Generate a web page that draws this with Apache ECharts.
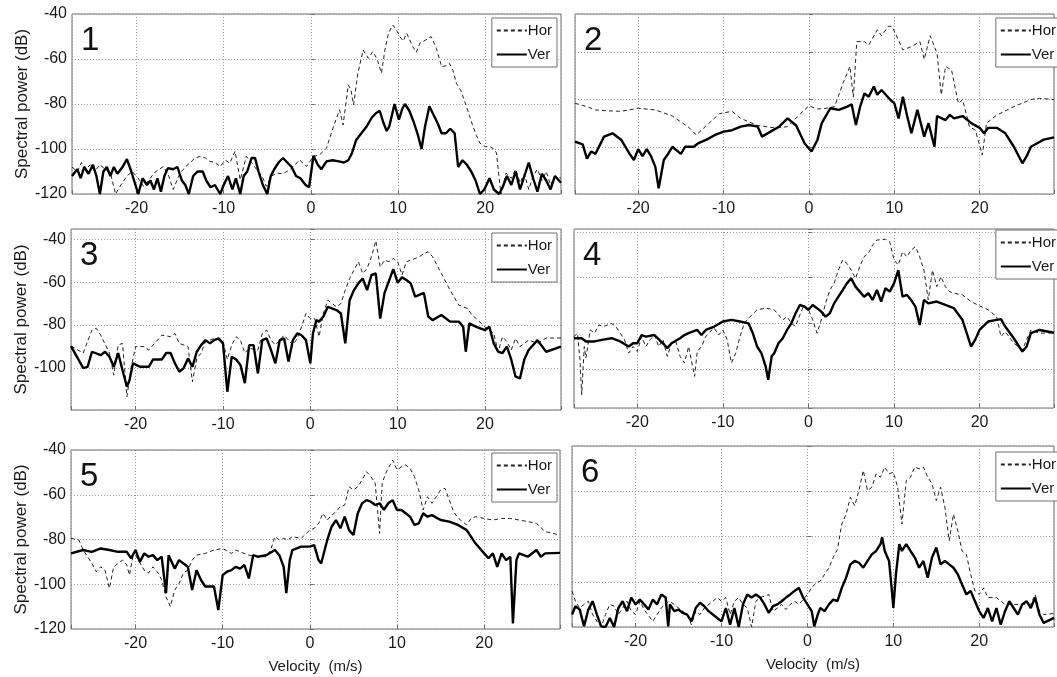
<!DOCTYPE html>
<html>
<head>
<meta charset="utf-8">
<script src="https://cdn.jsdelivr.net/npm/echarts@6/dist/echarts.min.js"></script>
<style>
html,body{margin:0;padding:0;background:#fff;}
#chart{width:1057px;height:677px;}
</style>
</head>
<body>
<div id="chart"></div>
<script>
// ---------------- DATA ----------------
const panelLabels = ['1','2','3','4','5','6'];
const seriesNames = ['Hor','Ver'];
const xAxisName = 'Velocity  (m/s)';
const yAxisName = 'Spectral power (dB)';
const xRange = [-27.4, 28.7];
const yRanges = [[-120,-40],[-120,-43.8],[-119.5,-35.3],[-116.8,-38.8],[-120,-40],[-120,-40]];

const p1Hor = [[-27.4,-108],[-26.8,-110],[-26.3,-106],[-25.8,-109],[-25.3,-107],[-24.8,-110],[-24.2,-107],[-23.6,-109],[-23,-110.7],[-22.4,-120],[-21.8,-116],[-21.1,-112],[-20.5,-110],[-19.8,-113],[-19.2,-116.6],[-18.6,-114],[-18,-110.7],[-17.4,-109],[-16.9,-107.8],[-16.3,-112],[-15.8,-118],[-15,-110.7],[-14.4,-108],[-13.9,-106.3],[-13.3,-104],[-12.7,-103.3],[-12.1,-104],[-11.6,-105.5],[-11,-106],[-10.4,-107.8],[-9.8,-105],[-9.3,-106.3],[-8.7,-101],[-8.1,-113.7],[-7.4,-103.3],[-6.8,-106],[-6.2,-109.2],[-5.6,-112],[-5.1,-116.6],[-4.5,-112],[-3.9,-110.7],[-3.2,-111],[-2.4,-109.2],[-1.8,-107],[-1.3,-104.8],[-0.5,-107.8],[0.3,-103.3],[1,-102.6],[1.8,-99.6],[2.6,-90],[3.3,-82.6],[3.7,-89.3],[4.3,-71.5],[4.6,-73.7],[4.9,-80.4],[5.4,-66.3],[6,-56],[6.6,-59.7],[7.1,-56.7],[7.6,-60],[8.1,-66.3],[8.5,-56],[8.9,-48.6],[9.4,-44.9],[9.8,-47],[10.2,-50],[10.6,-52],[11,-48.6],[11.4,-52],[11.7,-54.5],[12.1,-57],[12.5,-53],[13.2,-51.5],[13.8,-50],[14.4,-55.2],[15,-63.4],[15.5,-63],[15.9,-61.9],[16.3,-65],[16.7,-70.8],[17.2,-74],[17.6,-78.2],[18.1,-84],[18.6,-90],[19,-94],[19.4,-97.4],[20,-99],[20.5,-98.9],[21,-100],[21.3,-101.8],[21.8,-120],[22.4,-110.7],[23,-113],[23.5,-109],[24,-115],[24.5,-111],[25,-118],[25.5,-112],[26,-109],[26.5,-114],[27,-110],[27.5,-116],[28,-112],[28.7,-113]];
const p1Ver = [[-27.4,-112],[-26.8,-109],[-26.4,-113],[-26,-108],[-25.5,-111],[-25,-107],[-24.6,-112],[-24.2,-120],[-23.8,-110],[-23.4,-108],[-23,-112],[-22.6,-108],[-22.2,-111],[-21.6,-108],[-21.1,-104.5],[-20.6,-110],[-20.2,-115],[-19.8,-120],[-19.3,-113],[-18.8,-116],[-18.4,-114],[-18,-118],[-17.6,-113],[-17.2,-119],[-16.8,-112],[-16.4,-108.5],[-15.8,-109],[-15.3,-108],[-14.8,-114],[-14.4,-116],[-14,-120],[-13.5,-112],[-13,-110],[-12.4,-110],[-12,-114],[-11.5,-117],[-11,-116],[-10.4,-120],[-10,-116],[-9.5,-112],[-9,-118],[-8.6,-113],[-8.1,-120],[-7.7,-112],[-7.3,-110],[-6.8,-104],[-6.4,-104],[-6,-110],[-5.5,-116],[-5,-120],[-4.6,-112],[-4.2,-109],[-3.7,-106],[-3.2,-104],[-2.7,-106],[-2.2,-108],[-1.7,-112],[-1.2,-113],[-0.6,-116],[-0.2,-117],[0.3,-103],[0.8,-107],[1.2,-109],[1.8,-105.5],[2.5,-105],[3.2,-105.5],[3.8,-106],[4.3,-105],[4.7,-102],[5.2,-96],[5.8,-93],[6.4,-90],[7,-86],[7.5,-84],[7.9,-83],[8.3,-88],[8.7,-92],[9,-90],[9.6,-80],[10.1,-87],[10.5,-82],[10.8,-80],[11.3,-83],[11.8,-88],[12.3,-94],[12.7,-100],[13.1,-90],[13.6,-81],[14.1,-85],[14.6,-89],[15,-93],[15.5,-93],[16,-91],[16.5,-93],[16.9,-108],[17.4,-105],[17.9,-107],[18.4,-110],[18.9,-114],[19.4,-120],[19.9,-118],[20.5,-113],[21,-118],[21.6,-120],[22,-117],[22.5,-112],[23,-116],[23.5,-110],[24,-118],[24.5,-112],[25,-106],[25.5,-113],[26,-119],[26.5,-111],[27,-114],[27.5,-118],[28,-112],[28.7,-115]];

const p2Hor = [[-27.4,-81.6],[-26,-83],[-25,-84.4],[-23.5,-84.8],[-22,-85],[-20,-83.7],[-18,-84.4],[-16,-87],[-14,-92],[-13.2,-95],[-12,-91],[-10.5,-86],[-9,-85],[-8,-88],[-6,-91],[-4,-92],[-2.5,-91.5],[-1,-86],[0,-82.7],[1,-84],[2,-83.7],[3,-83],[4,-73],[4.8,-66],[5.2,-79],[5.6,-55.5],[6.5,-55.5],[7,-57],[8,-50.5],[8.5,-53],[9.3,-49],[9.7,-49],[10,-51],[11,-59],[12,-57.6],[13,-55.5],[13.5,-63],[14.2,-53],[15,-60.4],[15.5,-78],[16,-66],[16.7,-67.5],[17.5,-81.6],[18,-80],[18.8,-91.5],[19.5,-93],[20.3,-103.5],[20.8,-90],[22,-86.6],[24,-83],[26,-80],[27,-79.5],[28.7,-80]];
const p2Ver = [[-27.4,-97.8],[-26.5,-99],[-26,-105],[-25.5,-102],[-25,-103],[-24,-95.7],[-23,-94.3],[-22,-97],[-21,-103],[-20.5,-105.6],[-20,-101],[-19.5,-104],[-19,-101],[-18.5,-104],[-18,-108.4],[-17.6,-117.6],[-17,-105.6],[-16.5,-103],[-16,-100],[-15,-103],[-14.5,-100],[-13.5,-100],[-13,-98.6],[-12,-97],[-11,-95],[-10,-93.6],[-9,-93],[-8,-91.5],[-7,-90.8],[-6,-91.5],[-5.5,-95.7],[-4.5,-93.6],[-3.5,-91.5],[-2.5,-88],[-1.5,-91],[-0.5,-98.6],[0.3,-102],[1,-97],[1.5,-90],[2.5,-83.7],[3.5,-84.4],[4.5,-83],[5,-82],[5.5,-90.8],[6,-83],[6.5,-77.4],[7,-78.8],[7.6,-74.5],[8,-78],[8.5,-76],[9,-78],[9.5,-80],[10,-81.6],[10.5,-88],[11,-78.8],[11.5,-87],[12,-94.3],[12.7,-84.4],[13.5,-95.7],[14,-90],[14.7,-100],[15,-87],[16,-88.7],[16.5,-86.5],[17,-88],[18,-87],[19,-90],[20,-92],[20.5,-94.3],[21,-92],[22,-92],[23,-94.3],[24,-100],[25,-107],[25.5,-104],[26,-100],[27,-98],[27.5,-97],[28.7,-96]];

const p3Hor = [[-27.4,-89.8],[-26,-93],[-25,-82.3],[-24.5,-81.5],[-24,-84.7],[-23,-93],[-22.5,-103.3],[-22,-89.3],[-21.5,-88.5],[-21,-113.3],[-20.5,-99.4],[-20,-90],[-19,-90],[-18.5,-91.6],[-17,-84.7],[-16,-85.4],[-15.5,-83.9],[-15,-88.5],[-14,-90],[-13.5,-106.4],[-13,-95.5],[-12.5,-93],[-12,-87.7],[-11,-86.2],[-10,-87.7],[-9.5,-96],[-9,-89.3],[-8.5,-85.4],[-8,-87],[-7.5,-93],[-7,-90.8],[-6,-91.6],[-5.5,-83.9],[-5,-82.3],[-4.5,-87],[-4,-89.3],[-3,-84.7],[-2,-89.3],[-1.5,-86.2],[-1,-80.8],[-0.5,-74.6],[0,-77],[0.5,-77],[1,-85.4],[1.5,-74.6],[2,-68.4],[3,-71.5],[3.5,-70],[4,-63.7],[4.5,-58.3],[5,-54.4],[5.5,-50.5],[6,-56],[6.5,-53.6],[7,-48.2],[7.5,-40.8],[8,-52.9],[8.5,-49.8],[9,-50.5],[9.5,-49],[10,-50.5],[10.5,-56.7],[11,-50.5],[12,-49],[12.5,-48.2],[13,-46.7],[13.5,-45.9],[14,-48.2],[15,-56],[16,-63.7],[17,-70.7],[18,-72.3],[18.5,-75.3],[19,-77],[20,-80.8],[21,-83.9],[21.5,-92.4],[22,-85.4],[22.5,-87.7],[23,-91.6],[23.5,-86.2],[24,-90],[25,-87],[26,-88.5],[27,-86],[28.7,-86]];
const p3Ver = [[-27.4,-89.8],[-26,-100],[-25.5,-99.4],[-25,-92.4],[-24,-94],[-23.5,-92.4],[-23,-94.7],[-22.5,-99.4],[-22,-93],[-21.5,-101],[-21,-108.7],[-20.7,-105.6],[-20.3,-97.8],[-19.5,-99.4],[-18.5,-99.4],[-18,-96],[-17,-96],[-16.5,-93],[-16,-93],[-15.5,-97.8],[-15,-101.7],[-14.5,-100],[-14,-95.5],[-13.5,-99.4],[-13,-92.4],[-12.5,-89.3],[-12,-87],[-11.5,-88.5],[-11,-87],[-10.5,-86.2],[-10,-88.5],[-9.5,-111],[-9,-94.7],[-8.5,-96],[-8,-98.6],[-7.5,-107],[-7,-89.3],[-6.5,-89.3],[-6,-102.5],[-5.5,-87],[-5,-86.2],[-4.5,-91.6],[-4,-97.8],[-3.5,-87],[-3,-86.2],[-2.5,-97],[-2,-87],[-1.5,-83.9],[-1,-84.7],[-0.5,-87],[0,-97.8],[0.3,-83.9],[0.7,-77.7],[1,-78.4],[1.5,-76],[2,-71.5],[3,-73],[3.5,-74.6],[4,-88.5],[4.5,-68.4],[5,-63.7],[5.5,-60.6],[6,-58.3],[6.5,-63.7],[7,-56.7],[7.5,-56],[8,-77],[8.5,-65],[9.5,-54],[10,-60.3],[10.5,-57.8],[11,-59],[11.5,-60.6],[12,-66.8],[13,-65],[13.5,-76],[14,-77.7],[15,-75.3],[16,-78.4],[17,-78.4],[17.5,-80.8],[17.8,-92.4],[18.2,-79.2],[19,-80.8],[20,-82.3],[20.5,-80.8],[21,-88.5],[21.5,-92.4],[22,-93],[22.5,-90],[23,-96],[23.5,-104],[24,-104.8],[24.5,-96],[25,-91.6],[26,-87],[27,-92.4],[28.7,-90]];

const p4Hor = [[-27.4,-85.7],[-27,-84.2],[-26.7,-95.8],[-26.5,-111],[-26.2,-90],[-26,-95],[-25.5,-82.8],[-25,-84.2],[-24.5,-80.6],[-24,-81.3],[-23,-80],[-22.5,-81.3],[-22,-84.2],[-21.5,-87],[-21,-92.9],[-20.5,-90],[-20,-92.2],[-19.5,-85.7],[-19,-90],[-18.5,-87],[-18,-85],[-17.5,-90],[-17,-87],[-16.5,-94.3],[-16,-88.6],[-15.5,-87.8],[-15,-94.3],[-14.5,-97.2],[-14,-90],[-13.7,-95.8],[-13.3,-103],[-13,-92.2],[-12.5,-90],[-12,-85.7],[-11.5,-83.5],[-11,-82],[-10.5,-85],[-10,-82.8],[-9.5,-87],[-9,-97.2],[-8.5,-92.9],[-8,-85.7],[-7.5,-79.9],[-7,-77.7],[-6,-74],[-5,-73.3],[-4,-74],[-3.5,-76.2],[-3,-78.4],[-2.5,-77],[-2,-79.9],[-1.5,-81.3],[-1,-76.2],[-0.5,-71.9],[0,-74],[0.5,-78.4],[1,-84.2],[1.5,-78.4],[2,-71.2],[2.5,-65.4],[3,-62.5],[3.5,-56.7],[4,-52.3],[4.5,-53.8],[5,-56.7],[5.5,-60.3],[6,-55.2],[6.5,-50.9],[7,-49.4],[7.5,-45.8],[8,-43.6],[9,-43.3],[9.5,-44.3],[10,-52.3],[10.5,-54.5],[11,-48.7],[11.5,-50.9],[12,-48],[12.5,-46.5],[13,-50.9],[13.5,-56.7],[14,-69.7],[14.5,-56.7],[15,-63.9],[15.5,-59.6],[16,-63.9],[16.5,-66.1],[17,-66.8],[18,-67.5],[19,-70.4],[20,-72.3],[21,-74],[22,-77],[22.5,-85.7],[23,-83.5],[24,-88.6],[25,-91.4],[26,-82.8],[27,-84.2],[28.7,-84]];
const p4Ver = [[-27.4,-86.4],[-26.5,-86.4],[-26,-87.8],[-25,-87.8],[-24,-87],[-23,-86.4],[-22,-87.8],[-21,-90],[-20.5,-88.6],[-20,-88.6],[-19.5,-85],[-19,-85.7],[-18,-85],[-17,-88.6],[-16.5,-90.7],[-16,-88.6],[-15,-86.4],[-14.5,-85],[-14,-84.2],[-13,-82.8],[-12.5,-85],[-12,-82.8],[-11,-81.3],[-10,-79.1],[-9,-78.4],[-8,-79.1],[-7,-79.9],[-6.5,-84.2],[-6,-90],[-5.5,-92.9],[-5,-98.7],[-4.7,-104.5],[-4.3,-94.3],[-4,-92.9],[-3.5,-88.6],[-3,-86.4],[-2.5,-82.8],[-2,-79.9],[-1.5,-75.5],[-1,-71.9],[-0.5,-72.6],[0,-74],[0.5,-71.9],[1,-73.3],[1.5,-74.8],[2,-77],[2.5,-75.5],[3,-71.2],[3.5,-68.3],[4,-65.4],[4.5,-62.5],[5,-60.3],[5.5,-63.9],[6,-66.1],[6.5,-68.3],[7,-66.8],[7.5,-69.7],[8,-65.4],[8.5,-70.4],[9,-64.6],[9.5,-66.1],[10,-62.5],[10.5,-56.7],[11,-68.3],[11.5,-67.5],[12,-69.7],[12.5,-72.6],[13,-80.6],[13.5,-69.7],[14,-71.2],[15,-70.4],[16,-71.9],[17,-73.3],[18,-78.4],[18.5,-84.2],[19,-90],[19.5,-87],[20,-82.8],[21,-79.1],[22,-78.4],[22.5,-78.1],[23,-81.3],[24,-86.4],[25,-92.2],[25.5,-90],[26,-84.2],[27,-82.8],[28.7,-84]];

const p5Hor = [[-27.4,-79.5],[-26.5,-80.2],[-26,-84.7],[-25,-90.7],[-24.5,-94.4],[-24,-92.2],[-23.5,-93.7],[-23,-101.8],[-22.5,-92.2],[-22,-90.7],[-21.5,-89.2],[-21,-91.4],[-20.7,-95.9],[-20.3,-87.7],[-20,-87],[-19,-93.7],[-18.5,-95],[-18,-92.2],[-17.5,-94.4],[-17,-98],[-16.5,-105.6],[-16,-110],[-15.5,-102.6],[-15,-99.6],[-14.5,-95],[-14,-93.7],[-13.5,-89.2],[-13,-87],[-12,-86.2],[-11,-84.7],[-10,-84],[-9,-86.2],[-8.5,-84.7],[-8,-85.5],[-7,-87],[-6,-87.7],[-5,-87.7],[-4.5,-84.7],[-4,-78.7],[-3.5,-80.2],[-3,-79.5],[-2.5,-80.2],[-2,-78.7],[-1,-79.5],[0,-75.8],[0.5,-75],[1,-72.8],[1.5,-68.3],[2,-71.3],[2.5,-69.1],[3,-67.6],[3.5,-65.3],[4,-64.6],[4.5,-56.4],[5,-57.9],[5.5,-56.4],[6,-53.4],[6.5,-49.7],[7,-51.9],[7.5,-54.9],[8,-77.3],[8.3,-54.9],[8.7,-50.4],[9,-48.2],[9.5,-44.5],[10,-48.9],[10.5,-47.5],[11,-46.7],[11.5,-48.2],[12,-51.9],[12.5,-57.9],[13,-66.8],[13.5,-60.9],[14,-63.8],[14.5,-60.9],[15,-57.9],[15.5,-57.1],[16,-62.4],[16.5,-67.6],[17,-70.4],[17.5,-72],[18,-73.5],[18.5,-70.6],[19,-69.8],[20,-70.6],[21,-71.3],[22,-70.6],[23,-70.6],[24,-71.3],[25,-72],[26,-72.8],[27,-76.5],[28.7,-78]];
const p5Ver = [[-27.4,-86.2],[-26,-84.7],[-25,-85.5],[-24,-84],[-23,-84.7],[-22,-85.5],[-21,-85.5],[-20.5,-88.4],[-20,-84.7],[-19.5,-90],[-19,-86.2],[-18.5,-87.7],[-18,-87],[-17.5,-89.2],[-17,-87.7],[-16.5,-104],[-16.2,-87],[-15.5,-93],[-15,-89.2],[-14.5,-90.7],[-14,-92.2],[-13.5,-102.6],[-13,-93.7],[-12.5,-98],[-12,-101],[-11,-101],[-10.5,-111.5],[-10,-95.9],[-9.5,-94.4],[-9,-93.7],[-8.5,-92.2],[-8,-93],[-7.5,-91.4],[-7,-97.4],[-6.5,-87],[-6,-87.7],[-5,-87],[-4,-84.7],[-3.5,-87],[-3,-92.2],[-2.7,-104],[-2.3,-89.2],[-2,-84.7],[-1.5,-84],[-1,-83.2],[0,-83.2],[0.5,-82.5],[1,-89.2],[1.3,-90.7],[1.7,-84.7],[2,-80.2],[2.5,-74.3],[3,-71.3],[3.5,-75],[4,-69.8],[4.5,-75.8],[5,-78],[5.5,-68.3],[6,-63.8],[6.5,-62.4],[7,-63.1],[7.5,-64.6],[8,-63.8],[8.5,-66.8],[9,-63.8],[9.5,-62.4],[10,-66.8],[10.5,-66.8],[11,-68.3],[11.5,-69.8],[12,-73.5],[12.5,-72.8],[13,-68.3],[13.5,-69.8],[14,-69.1],[15,-71.3],[16,-72],[17,-73.5],[18,-75.8],[19,-81.7],[20,-86.2],[20.5,-88.4],[21,-86.2],[21.5,-92.2],[22,-86.2],[22.5,-89.2],[23,-87.7],[23.3,-117.5],[23.7,-89.2],[24,-86.2],[25,-87.7],[26,-84.7],[26.5,-87.7],[27,-86.2],[28.7,-86]];

const p6Hor = [[-27.4,-104.1],[-27,-108.6],[-26.5,-111.6],[-26,-110],[-25.5,-108.6],[-25,-114.5],[-24.5,-117.5],[-24,-120],[-23.5,-114.5],[-23,-110],[-22.5,-110.8],[-22,-114.5],[-21.5,-111.6],[-21,-108.6],[-20.5,-113],[-20,-114.5],[-19.5,-108.6],[-19,-112.3],[-18,-117.5],[-17.5,-114.5],[-17,-111.6],[-16.5,-109.3],[-16,-108.6],[-15,-111.6],[-14,-114.5],[-13.5,-119],[-13,-113],[-12.5,-114.5],[-12,-111.6],[-11,-108.6],[-10.5,-107],[-10,-108.6],[-9.5,-107],[-9,-114.5],[-8.5,-108.6],[-8,-107],[-7.5,-110],[-7,-111.6],[-6.5,-120],[-6,-108.6],[-5.5,-107],[-5,-106.4],[-4.5,-105.6],[-4,-113],[-3.5,-111.6],[-3,-110],[-2.5,-112.3],[-2,-110],[-1.5,-108.6],[-1,-110],[-0.5,-107.9],[0,-105.6],[0.5,-102.7],[1,-100.4],[1.5,-99.7],[2,-96.7],[2.5,-93.8],[3,-89.3],[3.5,-85.6],[4,-74.5],[4.5,-70.1],[5,-62.7],[5.5,-66.4],[6,-59.7],[6.5,-50.8],[7,-59.7],[7.5,-58.2],[8,-52.3],[8.5,-53.8],[9,-49.3],[9.5,-52.3],[10,-51.6],[10.5,-58.2],[11,-74.5],[11.5,-55.3],[12,-53.8],[12.5,-49.3],[13,-50.1],[13.5,-49.3],[14,-53.8],[14.5,-56.7],[15,-64.1],[15.5,-58.2],[16,-67.1],[16.5,-81.9],[17,-70.1],[17.5,-77.5],[18,-86.4],[18.5,-87.9],[19,-96.7],[19.5,-104.1],[20,-105.6],[20.5,-102.7],[21,-107],[22,-107],[23,-110],[24,-110],[25,-110],[26,-110],[26.5,-105.6],[27,-113],[27.5,-114.5],[28.7,-114]];
const p6Ver = [[-27.4,-114.5],[-27,-110.8],[-26.5,-112.3],[-26,-119.7],[-25.5,-112.3],[-25,-108.6],[-24.5,-114.5],[-24,-119.7],[-23.5,-120],[-23,-116],[-22.5,-120],[-22,-111.6],[-21.5,-108.6],[-21,-113],[-20.5,-107],[-20,-110],[-19.5,-107.9],[-19,-110],[-18.5,-112.3],[-18,-107.9],[-17.5,-110],[-17,-105.6],[-16.5,-107],[-16.2,-119.7],[-16,-110],[-15.5,-113],[-15,-112.3],[-14.5,-113.8],[-14,-114.5],[-13.5,-117.5],[-13,-111.6],[-12.5,-109.3],[-12,-110.8],[-11.5,-113],[-11,-114.5],[-10.5,-116],[-10,-117.5],[-9.5,-111.6],[-9,-119],[-8.5,-111.6],[-8,-120],[-7.5,-110],[-7,-105.6],[-6.5,-107],[-6,-105.6],[-5.5,-107],[-5,-110],[-4.5,-113.8],[-4,-110.8],[-3.5,-110],[-3,-108.6],[-2.5,-107],[-2,-105.6],[-1.5,-104.1],[-1,-102.7],[-0.5,-107],[0,-110],[0.5,-113],[0.8,-119.7],[1.2,-114.5],[1.5,-111.6],[2,-113],[2.5,-110],[3,-107.9],[3.5,-108.6],[4,-102.7],[4.5,-98.2],[5,-92.3],[5.5,-90.8],[6,-91.6],[6.5,-93.8],[7,-90.8],[7.5,-87.9],[8,-86.4],[8.5,-83.4],[8.7,-80.4],[9,-86.4],[9.5,-90.8],[9.8,-102.7],[10,-111.6],[10.3,-96.7],[10.7,-83.4],[11,-86.4],[11.5,-83.4],[12,-86.4],[12.5,-89.3],[13,-93.8],[13.5,-90.8],[14,-98.2],[14.5,-89.3],[15,-84.9],[15.5,-92.3],[16,-90.8],[16.5,-92.3],[17,-93.8],[17.5,-96.7],[18,-101.2],[18.5,-105.6],[19,-104.1],[19.5,-108.6],[20,-113],[20.5,-116],[21,-111.6],[21.5,-117.5],[22,-111.6],[22.5,-119],[23,-113],[23.5,-108.6],[24,-111.6],[24.5,-114.5],[25,-110],[25.5,-108.6],[26,-111.6],[26.5,-107],[27,-114.5],[27.5,-118.2],[28.7,-116]];

const horData = [p1Hor, p2Hor, p3Hor, p4Hor, p5Hor, p6Hor];
const verData = [p1Ver, p2Ver, p3Ver, p4Ver, p5Ver, p6Ver];

// ---------------- LAYOUT ----------------
const grids = [
  {left:72, top:14, width:489, height:180},
  {left:575, top:14, width:490, height:180},
  {left:71, top:229, width:490, height:181},
  {left:574, top:229, width:491, height:179},
  {left:71, top:450, width:489, height:179},
  {left:572, top:446, width:493, height:181}
];
const legendPos = [
  {right:500, top:18},
  {right:-4, top:18},
  {right:500, top:233},
  {right:-4, top:230},
  {right:500, top:453},
  {right:-4, top:452}
];
const FONT = '"Liberation Sans", Arial, Helvetica, sans-serif';
const INK = '#1a1a1a';
const BOX = '#707070';

const isMult = (v, m) => Math.abs(v / m - Math.round(v / m)) < 1e-6;

const option = {
  animation: false,
  backgroundColor: '#ffffff',
  textStyle: {fontFamily: FONT},
  grid: grids.map(g => Object.assign({show: true, borderColor: BOX, borderWidth: 1, backgroundColor: 'transparent'}, g)),
  title: grids.map((g, i) => ({
    text: panelLabels[i],
    left: g.left + 9,
    top: g.top + 10,
    padding: 0,
    textStyle: {fontSize: 33, fontWeight: 'normal', color: '#111', fontFamily: FONT}
  })),
  legend: legendPos.map(p => Object.assign({
    data: seriesNames,
    orient: 'vertical',
    align: 'left',
    itemWidth: 30,
    itemHeight: 12,
    itemGap: 9,
    padding: [5, 5, 5, 4],
    borderColor: BOX,
    borderWidth: 1,
    backgroundColor: '#fff',
    selectedMode: false,
    itemStyle: {color: 'transparent', borderColor: 'transparent', borderWidth: 0, opacity: 0},
    textStyle: {fontSize: 15, color: INK, fontFamily: FONT, padding: [0, 0, 0, -4]}
  }, p)),
  xAxis: grids.map((g, i) => ({
    type: 'value',
    gridIndex: i,
    min: xRange[0],
    max: xRange[1],
    name: i >= 4 ? xAxisName : '',
    nameLocation: 'middle',
    nameGap: 30,
    nameTextStyle: {fontSize: 15, color: INK, fontFamily: FONT},
    axisLine: {show: false},
    axisTick: {show: true, inside: true, length: 4, lineStyle: {color: BOX}},
    axisLabel: {
      fontSize: 16, color: INK, margin: 7, fontFamily: FONT,
      formatter: v => isMult(v, 10) ? String(Math.round(v)) : ''
    },
    splitLine: {show: true, lineStyle: {type: [1, 2], color: '#9a9a9a', width: 1}}
  })),
  yAxis: grids.map((g, i) => ({
    type: 'value',
    gridIndex: i,
    min: yRanges[i][0],
    max: yRanges[i][1],
    name: i % 2 === 0 ? yAxisName : '',
    nameLocation: 'middle',
    nameGap: 40,
    nameTextStyle: {fontSize: 17, color: INK, fontFamily: FONT},
    axisLine: {show: false},
    axisTick: {show: true, inside: true, length: 4, lineStyle: {color: BOX}},
    axisLabel: {
      show: i % 2 === 0,
      fontSize: 16, color: INK, margin: 5, fontFamily: FONT,
      formatter: v => isMult(v, 20) ? String(Math.round(v)) : ''
    },
    splitLine: {show: true, lineStyle: {type: [1, 2], color: '#9a9a9a', width: 1}}
  })),
  series: []
};

for (let i = 0; i < 6; i++) {
  option.series.push({
    name: 'Hor', type: 'line', xAxisIndex: i, yAxisIndex: i,
    data: horData[i], symbol: 'none', showSymbol: false, smooth: false,
    lineStyle: {color: '#222', width: 1, type: [4, 3]},
    itemStyle: {color: '#222'},
    z: 2
  });
  option.series.push({
    name: 'Ver', type: 'line', xAxisIndex: i, yAxisIndex: i,
    data: verData[i], symbol: 'none', showSymbol: false, smooth: false,
    lineStyle: {color: '#000', width: 2.4, type: 'solid'},
    itemStyle: {color: '#000'},
    z: 3
  });
}

const chart = echarts.init(document.getElementById('chart'), null, {renderer: 'canvas'});
chart.setOption(option);
</script>
</body>
</html>
